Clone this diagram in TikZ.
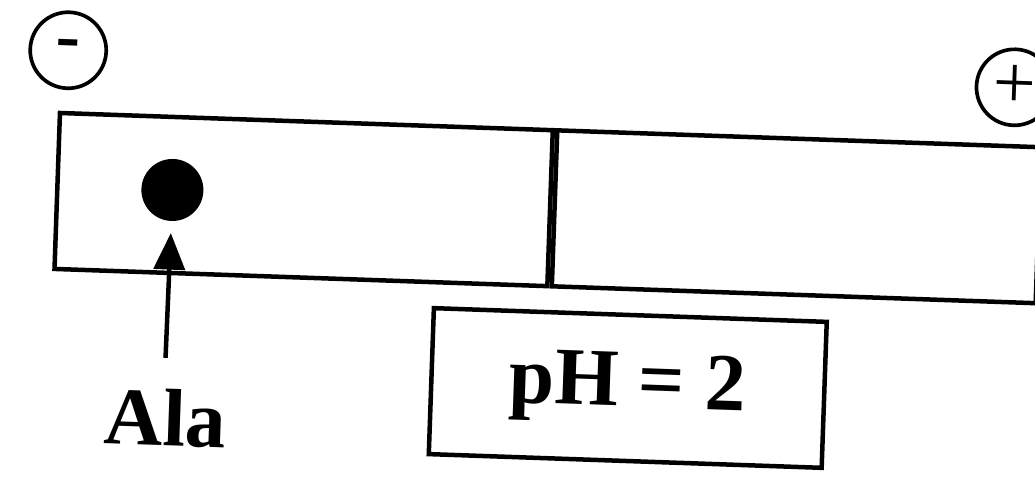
\documentclass[tikz,border=0pt]{standalone}
\usepackage{fontspec}
\setmainfont{Liberation Serif}
\usetikzlibrary{arrows.meta}

\begin{document}
\begin{tikzpicture}[x=0.025cm, y=0.025cm, line width=3.2pt]
  \clip (0,0) rectangle (1035,478);
  \begin{scope}[rotate around={-2:(545,270)}, transform shape]
    % gel strip
    \node[draw, minimum width=12.325cm, minimum height=3.9cm, inner sep=0] (lane1) at (303.5,270) {};
    \node[draw, minimum width=12.1cm, minimum height=3.9cm, inner sep=0, anchor=west] (lane2) at (lane1.east) {};
    % electrodes
    \node[draw, circle, line width=2.6pt, minimum size=1.9cm, inner sep=0,
          font=\fontsize{52}{52}\selectfont\bfseries] (cathode) at (63,411) {-};
    \node[draw, circle, line width=2.6pt, minimum size=1.9cm, inner sep=0,
          font=\fontsize{54}{54}\selectfont] (anode) at (1010,407) {+};
    % sample spot
    \node[circle, fill, minimum size=1.55cm, inner sep=0] (spot) at (172,275) {};
    \node[inner sep=2pt, font=\fontsize{58}{58}\selectfont\bfseries] (ala) at (173,47) {Ala};
    \coordinate (tail) at (171,107);
    \draw[-{Triangle[length=26pt, width=22pt]}, shorten >=7pt] (tail) -- (spot.south);
    % buffer
    \node[draw, minimum width=9.825cm, minimum height=3.65cm,
          font=\fontsize{58}{58}\selectfont\bfseries] (ph) at (634,93) {pH = 2};
  \end{scope}
\end{tikzpicture}
\end{document}
